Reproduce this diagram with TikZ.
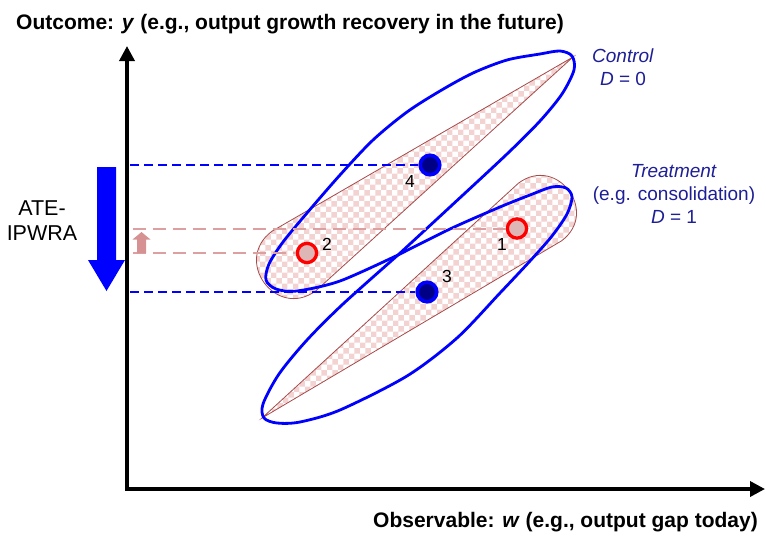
\documentclass[tikz,border=0pt]{standalone}
\usepackage{fontspec}
\setmainfont{Liberation Sans}
\usetikzlibrary{positioning,arrows.meta,patterns}

\definecolor{grpblue}{RGB}{0,0,255}
\definecolor{dotnavy}{RGB}{0,0,135}
\definecolor{txtnavy}{RGB}{30,30,150}
\definecolor{dotred}{RGB}{255,0,0}
\definecolor{dotfill}{RGB}{222,182,182}
\definecolor{rosedash}{RGB}{220,160,160}
\definecolor{rosearrow}{RGB}{214,146,146}
\definecolor{dropline}{RGB}{165,75,75}
\definecolor{checkpink}{RGB}{243,210,210}

\tikzset{
  axisline/.style={line width=3.5pt,line join=miter,
    {Triangle[length=15pt,width=15pt]}-{Triangle[length=15pt,width=15pt]}},
  groupline/.style={draw=grpblue,line width=2.8pt},
  droparea/.style={draw=dropline,line width=0.8pt,pattern=checkerboard,pattern color=checkpink},
  bluedash/.style={draw=grpblue,line width=1.8pt,dash pattern=on 9pt off 5pt},
  rosedashed/.style={draw=rosedash,line width=2pt,dash pattern=on 13pt off 7pt},
  ctrldot/.style={circle,draw=grpblue,fill=dotnavy,line width=3.6pt,minimum size=19.5pt,inner sep=0pt},
  treatdot/.style={circle,draw=dotred,fill=dotfill,line width=3.3pt,minimum size=19.3pt,inner sep=0pt},
  numlabel/.style={font=\fontsize{17.5}{20}\selectfont,inner sep=0pt},
  grouplabel/.style={text=txtnavy,align=center,font=\fontsize{19}{23}\selectfont,inner sep=0pt},
  axislabel/.style={font=\fontsize{21}{25}\selectfont\bfseries,inner sep=0pt}
}

\begin{document}
\begin{tikzpicture}[x=1pt,y=-1pt]
\useasboundingbox (0,0) rectangle (766,538);

% common support areas
\begin{scope}[shift={(573,57)},rotate=216.17]
\draw[droparea] (0,0) -- (345.6,37) .. controls (394.9,37) and (394.9,-37) .. (345.6,-37) -- cycle;
\end{scope}
\begin{scope}[shift={(262,418)},rotate=36.54]
\draw[droparea] (0,0) -- (346,36) .. controls (394,36) and (394,-36) .. (346,-36) -- cycle;
\end{scope}

% control group
\draw[groupline] plot[smooth,tension=0.5] coordinates {(398,255) (450,207) (507,154) (540,121) (562,94) (574,70)
  (572,56) (560,51) (540,54) (507,60) (473,73) (440,91) (407,112) (373,140) (340,175) (307,213)
  (283,242) (269,264) (266,280) (276,289) (297,291) (340,281) (398,255)};
% treatment group
\draw[groupline] plot[smooth,tension=0.5] coordinates {(398,255) (450,229) (500,207) (530,195) (552,187)
  (566,188) (572,197) (567,214) (552,236) (530,261) (500,293) (457,338) (407,376) (340,410)
  (300,422) (277,423) (264,418) (263,404) (279,374) (307,340) (343,304) (398,255)};

% axes
\coordinate (ytop) at (127,46);
\coordinate (O) at (127,489);
\coordinate (xend) at (765,489);
\draw[axisline] (ytop) -- (O) -- (xend);

% observations
\node[ctrldot] (p4) at (430,165) {};
\node[ctrldot] (p3) at (427,292) {};
\node[treatdot] (p2) at (307,253) {};
\node[treatdot] (p1) at (517,228.5) {};

\coordinate (a4) at (130,165);
\coordinate (a3) at (130,292);
\coordinate (a1) at (133,228.5);
\coordinate (a2) at (133,253);
\draw[bluedash] (a4) -- (p4.west);
\draw[bluedash] (a3) -- (p3.west);
\draw[rosedashed] (a1) -- (p1.west);
\draw[rosedashed] (a2) -- (p2.west);

\node[numlabel] (n1) at (502,244) {1};
\node[numlabel] (n2) at (327,244) {2};
\node[numlabel] (n3) at (447,276) {3};
\node[numlabel] (n4) at (410,181) {4};

% effect arrows
\fill[grpblue] (97,167) -- (116,167) -- (116,260) -- (125,260) -- (106.5,291) -- (88,260) -- (97,260) -- cycle;
\fill[rosearrow] (137,253) -- (146,253) -- (146,239.5) -- (150.5,239.5) -- (141.5,232) -- (132.5,239.5) -- (137,239.5) -- cycle;

% labels
\node[align=center,font=\fontsize{21.5}{24.3}\selectfont,inner sep=0pt] (ate) at (42,220.5) {ATE-\\IPWRA};
\node[grouplabel] (ctrl) at (623,67.5) {\textit{Control}\\\textit{D} = 0};
\node[grouplabel] (treat) at (674,194) {\textit{Treatment}\\(e.g. consolidation)\\\textit{D} = 1};
\node[axislabel,anchor=base west] (ylab) at (16,29) {Outcome: \textit{y} (e.g., output growth recovery in the future)};
\node[axislabel,anchor=base east] (xlab) at (758,527) {Observable: \textit{w} (e.g., output gap today)};
\end{tikzpicture}
\end{document}
